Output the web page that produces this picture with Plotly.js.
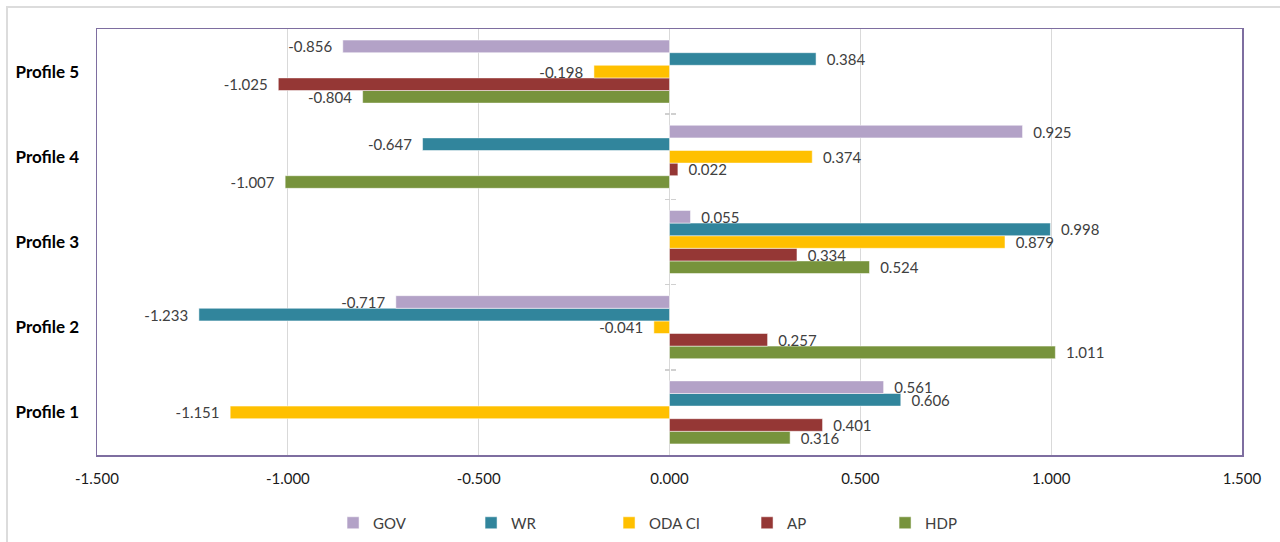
<!DOCTYPE html>
<html><head><meta charset="utf-8">
<script src="https://cdn.plot.ly/plotly-3.0.1.min.js"></script>
<style>
html,body{margin:0;padding:0;background:#fff;overflow:hidden}
#chart{width:1280px;height:542px}
#frame{position:absolute;left:6px;top:6px;width:1300px;height:600px;border:2px solid #dcdcdc;pointer-events:none}
</style></head><body>
<div id="chart"></div><div id="frame"></div>
<script>
const profiles = ['Profile 1','Profile 2','Profile 3','Profile 4','Profile 5'];
const seriesNames = ['GOV','WR','ODA CI','AP','HDP'];
const gov   = [0.561, -0.717, 0.055, 0.925, -0.856];
const wr    = [0.606, -1.233, 0.998, -0.647, 0.384];
const odaCi = [-1.151, -0.041, 0.879, 0.374, -0.198];
const ap    = [0.401, 0.257, 0.334, 0.022, -1.025];
const hdp   = [0.316, 1.011, 0.524, -1.007, -0.804];
const xTickVals = [-1.5, -1, -0.5, 0, 0.5, 1, 1.5];
const xTickText = ['-1.500','-1.000','-0.500','0.000','0.500','1.000','1.500'];
const seriesColors = ['#B3A2C7','#31859C','#FFC000','#953735','#77933C'];

const seriesValues = [gov, wr, odaCi, ap, hdp];
const FONT = 'Lato, "Liberation Sans", sans-serif';
const NB = '\u00A0\u00A0';
function labels(vals){ return vals.map(v => v < 0 ? v.toFixed(3) + NB : NB + v.toFixed(3)); }

const traces = [];
for (let i = seriesNames.length - 1; i >= 0; i--) {
  traces.push({
    type: 'bar', orientation: 'h', name: seriesNames[i],
    y: profiles, x: seriesValues[i],
    marker: {color: seriesColors[i], line: {color: '#ffffff', width: 0.5}},
    text: labels(seriesValues[i]), textposition: 'outside', constraintext: 'none',
    cliponaxis: false,
    textfont: {family: FONT, size: 15, color: '#404040'},
    hoverinfo: 'name+x'
  });
}
// empty helper traces so the category-boundary tick axes at x = 0 get drawn
traces.push({type: 'scatter', mode: 'markers', x: [], y: [], yaxis: 'y2', showlegend: false, hoverinfo: 'skip'});
traces.push({type: 'scatter', mode: 'markers', x: [], y: [], yaxis: 'y3', showlegend: false, hoverinfo: 'skip'});

const tickAxis = {
  overlaying: 'y', anchor: 'free', position: 0.5,
  range: [-0.5, 4.5], tickvals: [0.5, 1.5, 2.5, 3.5],
  ticks: 'outside', ticklen: 5, tickcolor: '#d0d0d0', tickwidth: 1.5,
  showticklabels: false, showgrid: false, zeroline: false, showline: false,
  fixedrange: true
};

const layout = {
  width: 1280, height: 542,
  margin: {l: 97, r: 38, t: 29, b: 87},
  paper_bgcolor: '#ffffff', plot_bgcolor: '#ffffff',
  barmode: 'group', bargap: 0.26, bargroupgap: 0,
  showlegend: true,
  xaxis: {
    range: [-1.5, 1.5], tickvals: xTickVals, ticktext: xTickText,
    showgrid: true, gridcolor: '#d9d9d9', gridwidth: 1,
    zeroline: true, zerolinecolor: '#d9d9d9', zerolinewidth: 1.5,
    showline: true, mirror: true, linecolor: '#7E6EA0', linewidth: 1.5,
    ticks: '', ticklabelstandoff: 9,
    tickfont: {family: FONT, size: 15, color: '#1a1a1a'},
    fixedrange: true
  },
  yaxis: {
    type: 'category', categoryorder: 'array', categoryarray: profiles,
    showgrid: false, zeroline: false,
    showline: true, mirror: true, linecolor: '#7E6EA0', linewidth: 1.5,
    ticks: '', ticklabelstandoff: 13,
    tickfont: {family: FONT, size: 17, color: '#000000', weight: 'bold'},
    fixedrange: true
  },
  yaxis2: Object.assign({}, tickAxis, {side: 'left'}),
  yaxis3: Object.assign({}, tickAxis, {side: 'right'}),
  legend: {
    orientation: 'h', xref: 'container', yref: 'container',
    x: 0.2602, xanchor: 'left', y: 0.035, yanchor: 'middle',
    traceorder: 'reversed', entrywidth: 93, entrywidthmode: 'pixels',
    itemwidth: 30,
    font: {family: FONT, size: 15, color: '#404040'}
  }
};

Plotly.newPlot('chart', traces, layout, {displayModeBar: false, staticPlot: true});
</script>
</body></html>
